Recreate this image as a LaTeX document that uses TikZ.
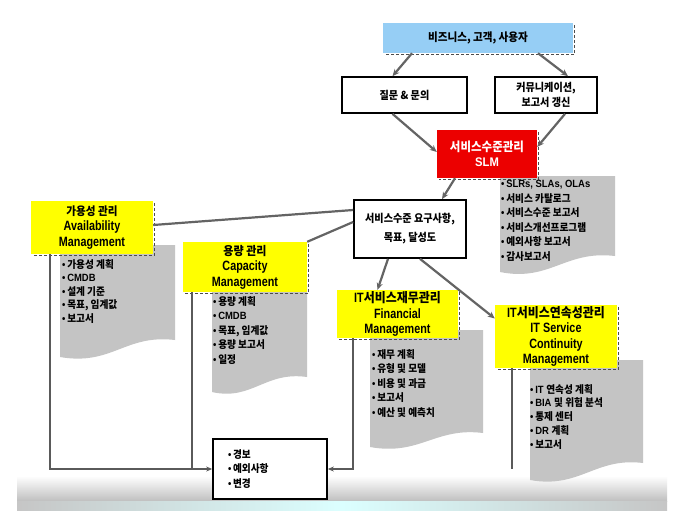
\documentclass[tikz,border=0pt]{standalone}
\usepackage{fontspec}
\setmainfont{Liberation Sans}[FakeStretch=0.9]
\newfontfamily\narrow{Liberation Sans Bold}[FakeStretch=0.8]
\newfontfamily\korean{Noto Sans CJK KR}[FakeStretch=0.92]
\usetikzlibrary{arrows.meta,calc}
\definecolor{ylw}{RGB}{255,255,0}
\definecolor{skyb}{RGB}{150,206,245}
\definecolor{slmred}{RGB}{236,0,0}
\definecolor{docgray}{RGB}{196,196,196}
\definecolor{connc}{RGB}{100,100,100}
\definecolor{feedc}{RGB}{90,90,90}
\newcommand\K[1]{{\korean #1}}
\newcommand\KT[2]{{\korean\bfseries\fontsize{#1}{15.5}\selectfont #2}}
\newcommand\dshadow[1]{\draw[densely dashed, line width=1.3pt, black!70]
  ([shift={(1.2pt,-2pt)}]#1.north east) -- ([shift={(1.2pt,-1.2pt)}]#1.south east) -- ([shift={(2pt,-1.2pt)}]#1.south west);}
\tikzset{
  conn/.style={draw=connc, line width=2.2pt},
  arr/.style={conn, -{Stealth[length=7pt,width=6pt]}},
  feed/.style={draw=feedc, line width=1.5pt},
  farr/.style={-{Stealth[length=6pt,width=5pt]}},
  ybox/.style={fill=ylw, inner sep=0pt, align=center, font=\narrow\fontsize{13.5}{15.5}\selectfont},
  wbox/.style={draw=black, line width=1.7pt, fill=white, inner sep=0pt, align=center},
  doctext/.style={anchor=north west, inner sep=0pt, align=left, font=\bfseries\fontsize{10.5}{13.5}\selectfont},
}
\begin{document}
\begin{tikzpicture}[x=1pt,y=-1pt]
\useasboundingbox (0,0) rectangle (678,515);
\fill[white] (0,0) rectangle (678,515);
% bottom background band
\shade[top color=white, bottom color=gray!50] (17,476) rectangle (667,501);
\shade[left color=gray!45, right color=gray!45, middle color=cyan!14] (17,501) rectangle (667,510);

% document shapes
\fill[docgray] (500,176) -- (615,176) -- (615,256) .. controls (565,250) and (550,282) .. (500,272) -- cycle;
\fill[docgray] (60,245) -- (175,245) -- (175,340) .. controls (125,334) and (112,366) .. (60,357) -- cycle;
\fill[docgray] (212,285) -- (307,285) -- (307,377) .. controls (265,371) and (252,401) .. (212,392) -- cycle;
\fill[docgray] (370,330) -- (483,330) -- (483,433) .. controls (435,427) and (420,456) .. (370,447) -- cycle;
\fill[docgray] (530,360) -- (643,360) -- (643,463) .. controls (595,457) and (580,489) .. (530,480) -- cycle;

% boxes
\node[fill=skyb, minimum width=190pt, minimum height=30pt, inner sep=0pt,
      font=\bfseries\fontsize{11.5}{14}\selectfont] (biz) at (478,38) {\K{비즈니스, 고객, 사용자}};
\node[wbox, minimum width=125pt, minimum height=36pt, font=\bfseries\fontsize{11}{14}\selectfont] (q) at (404.5,95) {\K{질문 \& 문의}};
\node[wbox, minimum width=102pt, minimum height=36pt, font=\bfseries\fontsize{11}{15}\selectfont] (comm) at (546,95) {\K{커뮤니케이션,}\\\K{보고서 갱신}};
\node[fill=slmred, text=white, minimum width=100pt, minimum height=48pt, inner sep=0pt, align=center,
      font=\bfseries\fontsize{12.5}{15}\selectfont] (slm) at (487,154) {\K{서비스수준관리}\\SLM};
\node[wbox, minimum width=112pt, minimum height=58pt, font=\bfseries\fontsize{11}{19}\selectfont] (req) at (410,229) {\K{서비스수준 요구사항,}\\\K{목표, 달성도}};
\node[ybox, minimum width=122pt, minimum height=53pt] (avail) at (92,227.5) {\KT{11.5}{가용성 관리}\\Availability\\Management};
\node[ybox, minimum width=124pt, minimum height=50pt] (cap) at (245,267) {\KT{12}{용량 관리}\\Capacity\\Management};
\node[ybox, minimum width=121pt, minimum height=48pt] (fin) at (397.5,314) {IT\KT{13}{서비스재무관리}\\Financial\\Management};
\node[ybox, minimum width=122pt, minimum height=63pt] (itscm) at (556,336.5) {IT\KT{13}{서비스연속성관리}\\IT Service\\Continuity\\Management};
\node[wbox, minimum width=114pt, minimum height=60pt, text width=84pt, align=left,
      font=\bfseries\fontsize{10.5}{14.5}\selectfont] (alert) at (270,469) {•\,\K{경보}\\•\,\K{예외사항}\\•\,\K{변경}};

\dshadow{biz}
\dshadow{slm}
\dshadow{avail}
\dshadow{cap}
\dshadow{fin}
\dshadow{itscm}

% connectors
\draw[arr] ([xshift=-66pt]biz.south) -- ([xshift=-12pt]q.north);
\draw[arr] ([xshift=60pt]biz.south) -- ([xshift=22pt]comm.north);
\draw[arr] ([xshift=-12pt]q.south) -- ([yshift=2pt]slm.west);
\draw[arr] ([xshift=19pt]comm.south) -- ([yshift=7pt]slm.east);
\draw[arr] ([xshift=-32pt]slm.south) -- ([xshift=32pt]req.north);
\draw[conn] ([yshift=19pt]req.west) -- ([yshift=2.5pt]avail.east);
\draw[conn] ([yshift=7pt]req.west) -- (cap.north east);
\draw[arr] ([xshift=-22pt]req.south) -- ([xshift=-20pt]fin.north);
\draw[arr] ([xshift=10pt]req.south) -- ([yshift=18pt]itscm.west);

% feedback lines
\draw[feed,farr] ([xshift=19pt]avail.south west) |- (alert.west);
\coordinate (capfoot) at ([xshift=9pt]cap.south west);
\draw[feed] (capfoot) -- (capfoot |- alert.west);
\draw[feed,farr] ([xshift=16pt]fin.south west) |- (alert.east);
\coordinate (itfoot) at ([xshift=17pt]itscm.south west);
\draw[feed] (itfoot) -- (itfoot |- alert.east);

% document texts
\node[doctext, font=\bfseries\fontsize{10.5}{14.6}\selectfont] (slmtxt) at (501,180) {•\,SLRs, SLAs, OLAs\\•\,\K{서비스 카탈로그}\\•\,\K{서비스수준 보고서}\\•\,\K{서비스개선프로그램}\\•\,\K{예외사항 보고서}\\•\,\K{감사보고서}};
\node[doctext] (availtxt) at (62,259) {•\,\K{가용성 계획}\\•\,CMDB\\•\,\K{설계 기준}\\•\,\K{목표, 임계값}\\•\,\K{보고서}};
\node[doctext, font=\bfseries\fontsize{10.5}{14.5}\selectfont] (captxt) at (213,296) {•\,\K{용량 계획}\\•\,CMDB\\•\,\K{목표, 임계값}\\•\,\K{용량 보고서}\\•\,\K{일정}};
\node[doctext, font=\bfseries\fontsize{10.5}{14.5}\selectfont] (fintxt) at (372,349) {•\,\K{재무 계획}\\•\,\K{유형 및 모델}\\•\,\K{비용 및 과금}\\•\,\K{보고서}\\•\,\K{예산 및 예측치}};
\node[doctext, font=\bfseries\fontsize{10.5}{13.8}\selectfont] (ittxt) at (530,384) {•\,IT \K{연속성 계획}\\•\,BIA \K{및 위험 분석}\\•\,\K{통제 센터}\\•\,DR \K{계획}\\•\,\K{보고서}};
\end{tikzpicture}
\end{document}
